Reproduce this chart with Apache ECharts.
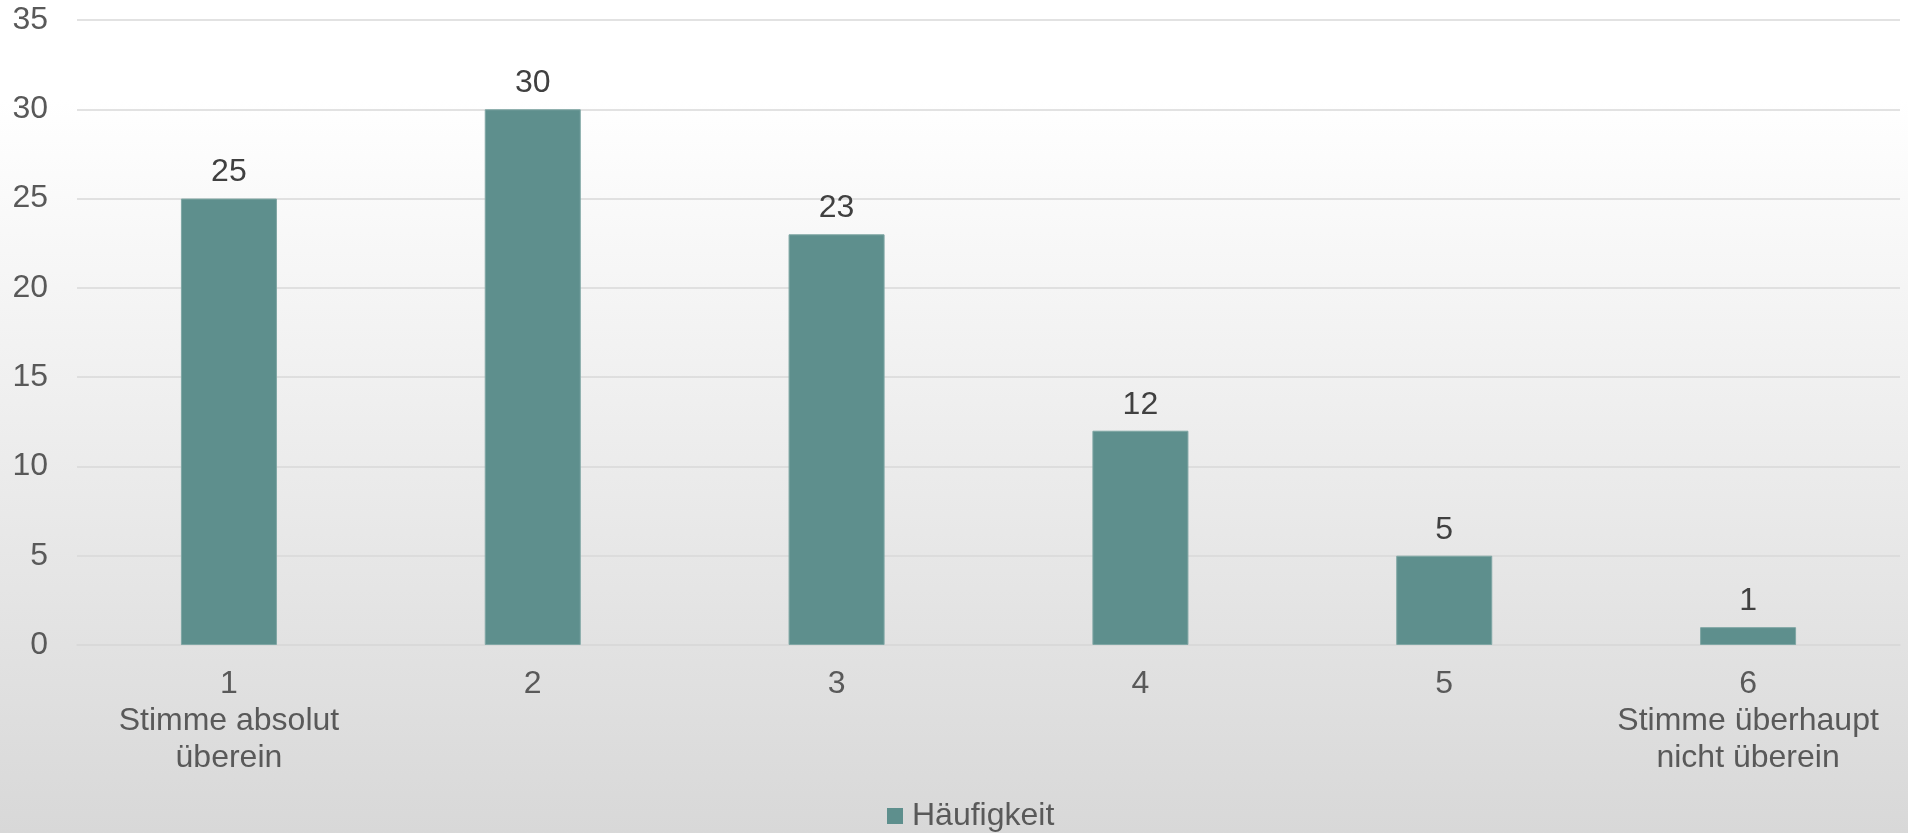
<!DOCTYPE html>
<html><head><meta charset="utf-8">
<script src="https://cdn.jsdelivr.net/npm/echarts@6/dist/echarts.min.js"></script>
<style>html,body{margin:0;padding:0;background:#fff}#c{width:1908px;height:833px}</style>
</head><body><div id="c"></div>
<script>
const categories = ['1\nStimme absolut\nüberein', '2', '3', '4', '5', '6\nStimme überhaupt\nnicht überein'];
const values = [25, 30, 23, 12, 5, 1];
const seriesName = 'Häufigkeit';
const yTicks = {min: 0, max: 35, interval: 5};

const chart = echarts.init(document.getElementById('c'));
const font = '"Liberation Sans", Arial, sans-serif';
chart.setOption({
  backgroundColor: new echarts.graphic.LinearGradient(0, 0, 0, 1, [
    {offset: 0, color: '#ffffff'}, {offset: 0.12, color: '#ffffff'}, {offset: 1, color: '#d8d8d8'}
  ]),
  animation: false,
  grid: {left: 77, right: 8, top: 20, bottom: 188},
  legend: {
    data: [seriesName], top: 795, left: 882,
    icon: 'rect', itemWidth: 16, itemHeight: 16, itemGap: 10,
    itemStyle: {borderWidth: 0},
    textStyle: {fontFamily: font, fontSize: 32, color: '#595959', padding: [0, 0, 0, 4]}
  },
  xAxis: {
    type: 'category', data: categories,
    axisLine: {show: true, lineStyle: {color: '#d9d9d9', width: 1.5}},
    axisTick: {show: false},
    axisLabel: {fontFamily: font, fontSize: 32, color: '#595959', lineHeight: 37, margin: 21, interval: 0}
  },
  yAxis: {
    type: 'value', min: yTicks.min, max: yTicks.max, interval: yTicks.interval,
    axisLine: {show: false}, axisTick: {show: false},
    axisLabel: {fontFamily: font, fontSize: 32, color: '#595959', margin: 29},
    splitLine: {lineStyle: {color: '#d9d9d9', width: 1.5}}
  },
  series: [{
    name: seriesName, type: 'bar', data: values, barWidth: '31.6%',
    itemStyle: {color: '#5e8f8d', borderColor: '#7fa6a4', borderWidth: 1},
    label: {show: true, position: 'top', distance: 10, fontFamily: font, fontSize: 32, color: '#404040'}
  }]
});
</script></body></html>
